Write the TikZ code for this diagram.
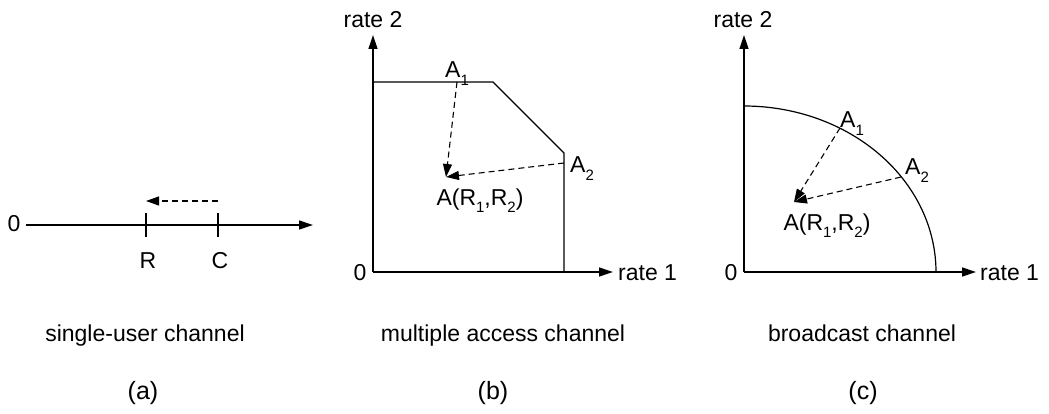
\documentclass[tikz,border=0pt]{standalone}
\usepackage{fontspec}
\setmainfont{Liberation Sans}
\usetikzlibrary{arrows.meta}
\newcommand\sbs[1]{\raisebox{-0.33em}{\fontsize{15}{15}\selectfont #1}}
\begin{document}
\begin{tikzpicture}[x=1pt,y=-1pt,
  font=\fontsize{23}{27}\selectfont,
  axis/.style={line width=1.3pt,-{Triangle[length=14pt,width=9pt]}},
  bound/.style={line width=1.2pt},
  tickline/.style={line width=1.2pt},
  dasharrow/.style={line width=1.1pt,dash pattern=on 6pt off 4pt,-{Triangle[length=13pt,width=9pt]}},
  lbl/.style={inner sep=0pt,anchor=base},
  lblw/.style={inner sep=0pt,anchor=base west},
  tagstyle/.style={inner sep=0pt,anchor=base,font=\fontsize{25}{29}\selectfont}]
\path[use as bounding box] (0,0) rectangle (1049,414);

% ---------- panel (a) ----------
\coordinate (a0) at (26,225);
\coordinate (aend) at (313,225);
\draw[axis] (a0) -- (aend);
\node[lbl] (zeroa) at (14,232) {0};
\coordinate (Rt) at (146,213); \coordinate (Rb) at (146,237);
\coordinate (Ct) at (218,213); \coordinate (Cb) at (218,237);
\draw[tickline] (Rt) -- (Rb);
\draw[tickline] (Ct) -- (Cb);
\coordinate (Cd) at (218,201); \coordinate (Rd) at (146,201);
\draw[dasharrow] (Cd) -- (Rd);
\node[lbl] (Rl) at (148,268) {R};
\node[lbl] (Cl) at (220,268) {C};
\node[lbl] (capa) at (145,341) {single-user channel};
\node[tagstyle] (tagA) at (143,399) {(a)};

% ---------- panel (b) ----------
\coordinate (bO) at (373,272);
\coordinate (bY) at (373,35);
\coordinate (bX) at (613,272);
\draw[axis] (bO) -- (bY);
\draw[axis] (bO) -- (bX);
\node[lbl] (zerob) at (360,280) {0};
\node[lbl] (rate2b) at (373,28) {rate 2};
\node[lblw] (rate1b) at (618,280) {rate 1};
\coordinate (bP1) at (373,82);
\coordinate (bP2) at (493,82);
\coordinate (bP3) at (564,153);
\coordinate (bP4) at (564,272);
\draw[bound] (bP1) -- (bP2) -- (bP3) -- (bP4);
\coordinate (bA1) at (457,82);
\coordinate (bA2) at (564,163);
\coordinate (bA) at (446,177);
\draw[dasharrow] (bA1) -- (bA);
\draw[dasharrow] (bA2) -- (bA);
\node[lblw] (bA1l) at (445,78) {A\sbs{1}};
\node[lblw] (bA2l) at (570,173) {A\sbs{2}};
\node[lbl] (bAl) at (480,205) {A(R\sbs{1},R\sbs{2})};
\node[lbl] (capb) at (503,341) {multiple access channel};
\node[tagstyle] (tagB) at (493,399) {(b)};

% ---------- panel (c) ----------
\coordinate (cO) at (744,272);
\coordinate (cY) at (744,35);
\coordinate (cX) at (976,272);
\draw[axis] (cO) -- (cY);
\draw[axis] (cO) -- (cX);
\node[lbl] (zeroc) at (731,280) {0};
\node[lbl] (rate2c) at (743,28) {rate 2};
\node[lblw] (rate1c) at (980,280) {rate 1};
\draw[bound] plot[domain=0:90,samples=90] ({744+192*cos(\x)},{272-166*sin(\x)});
\coordinate (cA1) at (840,128);
\coordinate (cA2) at (901,177);
\coordinate (cA) at (794,202);
\draw[dasharrow] (cA1) -- (cA);
\draw[dasharrow] (cA2) -- (cA);
\node[lblw] (cA1l) at (840,128) {A\sbs{1}};
\node[lblw] (cA2l) at (905,175) {A\sbs{2}};
\node[lbl] (cAl) at (827,230) {A(R\sbs{1},R\sbs{2})};
\node[lbl] (capc) at (862,341) {broadcast channel};
\node[tagstyle] (tagC) at (863,399) {(c)};
\end{tikzpicture}
\end{document}
